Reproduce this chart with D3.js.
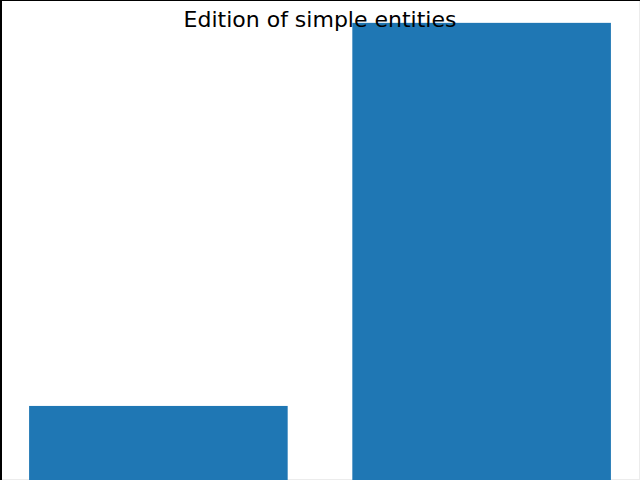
<!DOCTYPE html>
<html>
<head>
<meta charset="utf-8">
<script src="https://cdn.jsdelivr.net/npm/d3@7"></script>
<style>
html, body { margin: 0; padding: 0; background: #fff; }
svg { display: block; }
</style>
</head>
<body>
<svg id="chart" width="640" height="480"></svg>
<script>
const categories = ["A", "B"];
const values = [1.62, 10];
const titleText = "Edition of simple entities";

const W = 640, H = 480;
const svg = d3.select("#chart");

const x = d3.scaleLinear().domain([-0.49, 1.49]).range([0, W]);
const y = d3.scaleLinear().domain([0, d3.max(values) * 1.05]).range([H, 0]);
const barW = 0.8;

svg.append("rect").attr("x", 0).attr("y", 0).attr("width", W).attr("height", H).attr("fill", "#fff");

// faint right/bottom frame (under bars)
svg.append("line").attr("x1", W - 0.5).attr("x2", W - 0.5).attr("y1", 0).attr("y2", H).attr("stroke", "#ececec").attr("stroke-width", 1);
svg.append("line").attr("x1", 0).attr("x2", W).attr("y1", H - 0.5).attr("y2", H - 0.5).attr("stroke", "#ececec").attr("stroke-width", 1);

svg.selectAll("rect.bar")
  .data(values)
  .enter().append("rect")
  .attr("class", "bar")
  .attr("x", (d, i) => x(i - barW / 2))
  .attr("width", (d, i) => x(i + barW / 2) - x(i - barW / 2))
  .attr("y", d => y(d))
  .attr("height", d => y(0) - y(d))
  .attr("fill", "#1f77b4");

svg.append("line").attr("x1", 1).attr("x2", 1).attr("y1", 0).attr("y2", H).attr("stroke", "#000").attr("stroke-width", 2);
svg.append("line").attr("x1", 0).attr("x2", W).attr("y1", 0.5).attr("y2", 0.5).attr("stroke", "#000").attr("stroke-width", 1);

svg.append("text")
  .attr("x", W / 2)
  .attr("y", 27)
  .attr("text-anchor", "middle")
  .attr("font-family", "DejaVu Sans")
  .attr("font-size", 22)
  .attr("fill", "#000")
  .text(titleText);
</script>
</body>
</html>
